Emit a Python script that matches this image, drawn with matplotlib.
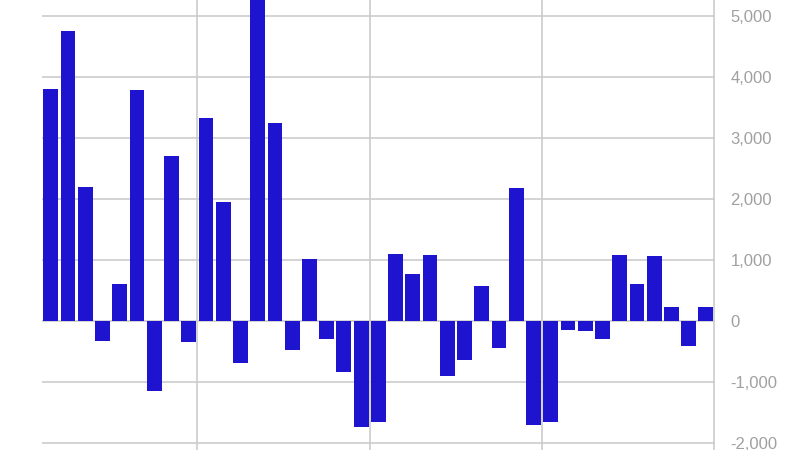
import numpy as np
import matplotlib
matplotlib.use("Agg")
import matplotlib.pyplot as plt
from matplotlib.ticker import FuncFormatter

# values
values = [3790, 4750, 2200, -320, 600, 3780, -1140, 2700, -340, 3330,
          1940, -690, 5600, 3240, -480, 1010, -290, -840, -1730, -1650,
          1100, 770, 1080, -900, -630, 580, -440, 2180, -1710, -1660,
          -140, -160, -300, 1080, 600, 1065, 235, -410, 225]
yticks = [-2000, -1000, 0, 1000, 2000, 3000, 4000, 5000]
xgrid = [8.5, 18.5, 28.5, 38.5]

plt.rcParams["font.family"] = ["Liberation Sans", "DejaVu Sans"]

fig = plt.figure(figsize=(8, 4.5), dpi=100)
ax = fig.add_axes([42.2 / 800, 0, (714.5 - 42.2) / 800, 1])

x = np.arange(len(values))
ax.bar(x, values, width=0.86, color="#1e14cf", zorder=2)

ax.set_xlim(-0.5, 38.5)
ax.set_ylim(-2111, 5254)

ax.set_yticks(yticks)
ax.yaxis.set_major_formatter(FuncFormatter(lambda v, p: "{:,.0f}".format(v)))
ax.yaxis.tick_right()
ax.tick_params(axis="y", length=0, pad=11.5, labelsize=12, labelcolor="#a0a0a0")

ax.set_xticks(xgrid)
ax.set_xticklabels([])
ax.tick_params(axis="x", length=0)

ax.grid(True, color="#cccccc", linewidth=1.2, zorder=0)
ax.set_axisbelow(True)
for s in ax.spines.values():
    s.set_visible(False)

fig.savefig("out.png", dpi=100)
